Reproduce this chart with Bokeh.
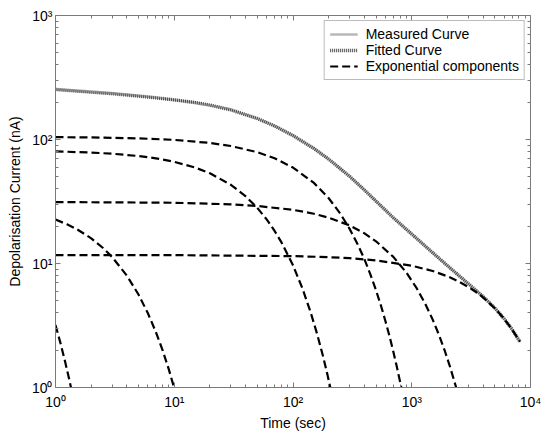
from bokeh.plotting import figure
from bokeh.models import LogAxis, FixedTicker, CustomJSTickFormatter
from bokeh.embed import file_html
from bokeh.resources import INLINE

FONT = "Liberation Sans"

# ---- data ----
fit_t = [1, 1.5, 2, 3, 5, 7, 10, 15, 20, 30, 50, 70, 100, 150, 200, 300, 400, 500,
         700, 1000, 1500, 2000, 3000, 4000, 5000, 6000, 7000, 8150]
fit_i = [253.5, 246.1, 241.5, 234.3, 224.1, 217.0, 208.9, 198.3, 189.4, 173.3, 147.8,
         128.6, 107.6, 84.6, 69.4, 50.4, 39.1, 31.8, 23.4, 17.26, 12.23, 9.59, 6.87,
         5.40, 4.38, 3.58, 2.94, 2.34]
meas_t = fit_t
meas_i = [253.0, 246.5, 241.0, 234.5, 224.0, 217.2, 208.5, 198.5, 189.0, 173.5, 147.5,
          128.8, 107.4, 84.8, 69.2, 50.5, 39.0, 31.9, 23.3, 17.3, 12.2, 9.6, 6.85,
          5.42, 4.37, 3.59, 2.93, 2.35]

comp1_t = [1, 2, 5, 10, 20, 30, 50, 70, 100, 150, 200, 250, 300, 350, 400, 450, 500,
           550, 600, 650, 700, 750, 817]
comp1_i = [104.5, 103.9, 102.1, 99.3, 93.8, 88.6, 79.0, 70.5, 59.4, 44.7, 33.6, 25.3,
           19.0, 14.3, 10.8, 8.09, 6.09, 4.58, 3.44, 2.59, 1.94, 1.46, 1.0]

comp2_t = [1, 2, 3, 5, 7, 10, 15, 20, 30, 40, 50, 60, 70, 80, 100, 120, 140, 160, 180,
           195, 206]
comp2_i = [80.2, 78.5, 76.8, 73.6, 70.5, 66.1, 59.4, 53.4, 43.1, 34.8, 28.1, 22.7, 18.3,
           14.8, 9.66, 6.30, 4.11, 2.68, 1.75, 1.27, 1.0]

comp3_t = [1, 10, 30, 50, 100, 150, 200, 300, 400, 500, 700, 900, 1100, 1300, 1500,
           1700, 1900, 2100, 2366]
comp3_i = [31.3, 30.9, 30.0, 29.1, 27.1, 25.2, 23.4, 20.3, 17.5, 15.1, 11.3, 8.46, 6.32,
           4.72, 3.53, 2.64, 1.97, 1.47, 1.0]

comp4_t = [1, 10, 100, 200, 300, 500, 1000, 1500, 2000, 2500, 3000, 3500, 4000, 5000,
           6000, 7000, 8150]
comp4_i = [11.7, 11.68, 11.47, 11.25, 11.03, 10.6, 9.60, 8.70, 7.88, 7.14, 6.47, 5.86,
           5.31, 4.36, 3.58, 2.94, 2.34]

comp5_t = [1, 1.25, 1.5, 2, 2.5, 3, 4, 5, 6, 7, 8, 9, 9.96]
comp5_i = [22.6, 20.7, 19.0, 15.96, 13.4, 11.27, 7.95, 5.62, 3.97, 2.80, 1.98, 1.40, 1.0]

comp6_t = [1, 1.1, 1.2, 1.3, 1.35]
comp6_i = [3.19, 2.29, 1.64, 1.18, 1.0]

components = [(comp1_t, comp1_i), (comp2_t, comp2_i), (comp3_t, comp3_i),
              (comp4_t, comp4_i), (comp5_t, comp5_i), (comp6_t, comp6_i)]

x_major = [1, 10, 100, 1000, 10000]
y_major = [1, 10, 100, 1000]
x_minor = [m * d for d in [1, 10, 100, 1000] for m in range(2, 10)]
y_minor = [m * d for d in [1, 10, 100] for m in range(2, 10)]

x_label = "Time (sec)"
y_label = "Depolarisation Current (nA)"

# ---- figure ----
p = figure(width=546, height=434, x_axis_type="log", y_axis_type="log",
           x_range=(1, 1e4), y_range=(1, 1e3),
           output_backend="svg", toolbar_location=None,
           min_border_left=55, min_border_right=16, min_border_top=15,
           min_border_bottom=47)
p.grid.visible = False
p.outline_line_color = None
p.background_fill_color = "white"
p.border_fill_color = "white"

fmt_code = "const s=['\u2070','\u00b9','\u00b2','\u00b3','\u2074']; return '10' + s[Math.round(Math.log10(tick))];"

def style_axis(ax, ticks, minor, show_labels=True):
    ax.ticker = FixedTicker(ticks=ticks, minor_ticks=minor)
    ax.axis_line_color = "#7a7a7a"
    ax.axis_line_width = 1
    ax.major_tick_in = 5
    ax.major_tick_out = 0
    ax.minor_tick_in = 3
    ax.minor_tick_out = 0
    ax.major_tick_line_color = "#7a7a7a"
    ax.minor_tick_line_color = "#7a7a7a"
    ax.major_label_text_font = FONT
    ax.major_label_text_font_size = "14px"
    ax.major_label_text_color = "black"
    ax.axis_label_text_font = FONT
    ax.axis_label_text_font_size = "14px"
    ax.axis_label_text_font_style = "normal"
    ax.axis_label_text_color = "black"
    if show_labels:
        ax.formatter = CustomJSTickFormatter(code=fmt_code)
    else:
        ax.formatter = CustomJSTickFormatter(code="return '';")
        ax.major_label_standoff = 0

style_axis(p.xaxis[0], x_major, x_minor)
style_axis(p.yaxis[0], y_major, y_minor)
p.xaxis[0].axis_label = x_label
p.yaxis[0].axis_label = y_label
p.xaxis[0].major_label_standoff = 6
p.yaxis[0].major_label_standoff = 3
p.xaxis[0].axis_label_standoff = 2
p.yaxis[0].axis_label_standoff = 6

top = LogAxis()
style_axis(top, x_major, x_minor, show_labels=False)
p.add_layout(top, "above")
right = LogAxis()
style_axis(right, y_major, y_minor, show_labels=False)
p.add_layout(right, "right")

# ---- curves ----
p.line(meas_t, meas_i, line_color="#b8b8b8", line_width=2.5,
       legend_label="Measured Curve")
p.line(fit_t, fit_i, line_color="#4a4a4a", line_width=3.5, line_dash="1 1",
       legend_label="Fitted Curve")
for k, (ct, ci) in enumerate(components):
    kw = {"legend_label": "Exponential components"} if k == 0 else {}
    p.line(ct, ci, line_color="black", line_width=2.2, line_dash="8 4", **kw)

lg = p.legend[0]
lg.location = "top_right"
lg.margin = 5
lg.padding = 5
lg.spacing = 0
lg.label_height = 16
lg.glyph_height = 16
lg.glyph_width = 28
lg.label_standoff = 8
lg.label_text_font = FONT
lg.label_text_font_size = "14px"
lg.label_text_color = "black"
lg.border_line_color = "#7a7a7a"
lg.border_line_width = 1
lg.background_fill_color = "white"
lg.background_fill_alpha = 1.0

open("out.html", "w").write(file_html(p, INLINE))
